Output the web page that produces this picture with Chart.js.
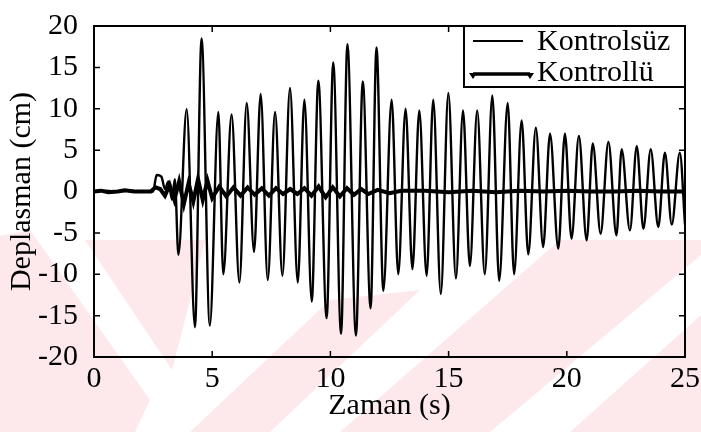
<!DOCTYPE html>
<html>
<head>
<meta charset="utf-8">
<script src="https://cdn.jsdelivr.net/npm/chart.js@4.4.1/dist/chart.umd.min.js"></script>
<style>
  html, body { margin: 0; padding: 0; background: #fff; }
  #wrap { width: 701px; height: 432px; }
</style>
</head>
<body>
<div id="wrap"><canvas id="c" width="701" height="432"></canvas></div>
<script>
// Kontrolsüz (uncontrolled) - peaks/troughs
const tFree = [0, 0.5, 1.0, 1.5, 2.0, 2.5, 2.65, 2.85, 3.0, 3.15, 3.3, 3.42,
  3.57, 3.92, 4.27, 4.55, 4.9, 5.26, 5.47, 5.82, 6.15, 6.46, 6.77, 7.05, 7.35, 7.66,
  7.97, 8.29, 8.62, 8.9, 9.21, 9.49, 9.84, 10.12, 10.45, 10.72, 11.08, 11.37, 11.7, 11.95,
  12.24, 12.59, 12.87, 13.18, 13.47, 13.76, 14.07, 14.35, 14.67, 14.99, 15.31, 15.61,
  15.9, 16.21, 16.53, 16.85, 17.14, 17.5, 17.77, 18.09, 18.37, 18.69, 19.0, 19.29,
  19.64, 19.92, 20.2, 20.51, 20.84, 21.1, 21.43, 21.76, 22.1, 22.32, 22.67, 22.96,
  23.24, 23.55, 23.87, 24.15, 24.44, 24.78, 25.0];
const yFree = [0, 0.1, 0, 0.1, 0, 0, 2.0, 1.8, 0.3, 1.2, -1.0, 1.5,
  -7.65, 9.95, -16.4, 18.5, -16.2, 9.6, -10.0, 9.3, -11.0, 10.7, -7.3, 11.8, -10.7, 9.6,
  -10.2, 12.5, -11.0, 11.1, -13.3, 13.4, -15.3, 15.6, -17.2, 17.8, -17.4, 13.3, -14.1, 17.4,
  -12.0, 11.1, -10.0, 10.0, -9.4, 9.8, -10.2, 11.1, -12.4, 11.9, -10.5, 9.8,
  -9.0, 9.8, -10.0, 11.6, -10.8, 10.7, -10.0, 8.6, -7.6, 7.7, -6.7, 7.0,
  -6.9, 7.0, -5.7, 6.7, -5.9, 5.8, -5.1, 6.0, -5.3, 5.1, -4.7, 5.5,
  -4.5, 5.1, -4.3, 4.7, -4.0, 4.7, -4.0];

// Kontrollü (controlled)
const tCtrl = [0, 0.3, 0.6, 1.0, 1.3, 1.7, 2.0, 2.4, 2.6, 2.8, 3.0, 3.2, 3.4, 3.6, 3.8,
  4.0, 4.2, 4.4, 4.6, 4.8, 5.0, 5.3, 5.6, 5.9, 6.2, 6.5, 6.8, 7.1, 7.4, 7.7, 8.0,
  8.3, 8.6, 8.9, 9.2, 9.5, 9.8, 10.1, 10.4, 10.7, 11.0, 11.3, 11.6, 12.0, 12.5, 13.0,
  14.0, 15.0, 16.0, 17.0, 18.0, 19.0, 20.0, 21.0, 22.0, 23.0, 24.0, 25.0];
const yCtrl = [0, 0.1, -0.1, 0, 0.15, 0, 0, 0, 0.5, 0.3, -0.5, 0.8, -1.0, 1.2, -1.5,
  1.0, -1.2, 1.5, -1.0, 1.3, -0.8, 0.6, -0.6, 0.5, -0.5, 0.5, -0.4, 0.4, -0.5, 0.4, -0.3,
  0.3, -0.3, 0.4, -0.5, 0.6, -0.7, 0.5, -0.6, 0.4, -0.4, 0.3, -0.3, 0.2, -0.2, 0.1,
  0.1, -0.1, 0.1, -0.1, 0.1, 0, 0.1, 0, 0, 0.1, 0, 0];

const xTicks = [0, 5, 10, 15, 20, 25];
const yTicks = [-20, -15, -10, -5, 0, 5, 10, 15, 20];
const seriesNames = ['Kontrolsüz', 'Kontrollü'];

const FONT = 'Liberation Serif, Times New Roman, serif';

// faint pink watermark behind the chart
const watermark = {
  id: 'watermark',
  beforeDraw(chart) {
    const c = chart.ctx;
    c.save();
    c.fillStyle = '#fde9ec';
    const polys = [
      [[0, 236], [30, 230], [150, 400], [135, 432], [0, 432]],
      [[85, 240], [205, 240], [190, 300], [172, 370]],
      [[190, 432], [330, 300], [420, 290], [270, 432]],
      [[340, 432], [560, 240], [701, 240], [701, 255], [490, 432]],
      [[570, 432], [701, 315], [701, 432]]
    ];
    polys.forEach(p => {
      c.beginPath();
      c.moveTo(p[0][0], p[0][1]);
      p.slice(1).forEach(q => c.lineTo(q[0], q[1]));
      c.closePath();
      c.fill();
    });
    c.restore();
  }
};

// box, inward ticks and legend (MATLAB style)
const frame = {
  id: 'frame',
  afterDraw(chart) {
    const c = chart.ctx;
    const a = chart.chartArea;
    const xs = chart.scales.x, ys = chart.scales.y;
    c.save();
    c.strokeStyle = '#000';
    c.lineWidth = 2;
    c.strokeRect(a.left, a.top, a.right - a.left, a.bottom - a.top);
    c.lineWidth = 1.5;
    c.beginPath();
    xTicks.forEach(v => {
      const px = xs.getPixelForValue(v);
      c.moveTo(px, a.bottom); c.lineTo(px, a.bottom - 6);
      c.moveTo(px, a.top); c.lineTo(px, a.top + 6);
    });
    yTicks.forEach(v => {
      const py = ys.getPixelForValue(v);
      c.moveTo(a.left, py); c.lineTo(a.left + 6, py);
      c.moveTo(a.right, py); c.lineTo(a.right - 6, py);
    });
    c.stroke();

    // legend
    const lx = 464, ly = a.top, lw = a.right - lx, lh = 61;
    c.fillStyle = '#fff';
    c.fillRect(lx, ly, lw, lh);
    c.lineWidth = 2;
    c.strokeRect(lx, ly, lw, lh);
    c.font = '30px ' + FONT;
    c.fillStyle = '#000';
    c.textBaseline = 'middle';
    c.lineWidth = 2;
    c.beginPath(); c.moveTo(473, ly + 15); c.lineTo(523, ly + 15); c.stroke();
    c.fillText(seriesNames[0], 537, ly + 16);
    c.lineWidth = 3.5;
    c.beginPath(); c.moveTo(473, ly + 48); c.lineTo(530, ly + 48); c.stroke();
    [473, 530].forEach(px => {
      c.beginPath(); c.moveTo(px - 4, ly + 47); c.lineTo(px + 4, ly + 47); c.lineTo(px, ly + 53); c.closePath(); c.fill();
    });
    c.fillText(seriesNames[1], 537, ly + 47);
    c.restore();
  }
};

new Chart(document.getElementById('c'), {
  type: 'line',
  data: {
    datasets: [
      {
        label: seriesNames[0],
        data: tFree.map((t, i) => ({ x: t, y: yFree[i] })),
        borderColor: '#000',
        borderWidth: 2.4,
        pointRadius: 0,
        cubicInterpolationMode: 'monotone',
      },
      {
        label: seriesNames[1],
        data: tCtrl.map((t, i) => ({ x: t, y: yCtrl[i] })),
        borderColor: '#000',
        borderWidth: 4,
        pointRadius: 0,
        tension: 0,
      },
    ],
  },
  options: {
    responsive: false,
    animation: false,
    layout: { padding: { left: 0, right: 16, top: 16, bottom: 0 } },
    plugins: {
      legend: { display: false },
      tooltip: { enabled: false },
    },
    scales: {
      x: {
        type: 'linear',
        min: 0,
        max: 25,
        afterBuildTicks: s => { s.ticks = xTicks.map(v => ({ value: v })); },
        afterFit: s => { s.height = 75; },
        grid: { display: false },
        border: { display: false },
        ticks: { color: '#000', padding: -4, maxRotation: 0, font: { family: FONT, size: 30 } },
        title: { display: true, text: 'Zaman (s)', color: '#000', padding: { top: 0, bottom: 8 }, font: { family: FONT, size: 30 } },
      },
      y: {
        min: -20,
        max: 20,
        afterBuildTicks: s => { s.ticks = yTicks.map(v => ({ value: v })); },
        afterFit: s => { s.width = 94; },
        grid: { display: false },
        border: { display: false },
        ticks: { color: '#000', padding: 8, font: { family: FONT, size: 30 } },
        title: { display: true, text: 'Deplasman (cm)', color: '#000', padding: { top: 4, bottom: 0 }, font: { family: FONT, size: 30 } },
      },
    },
  },
  plugins: [watermark, frame],
});
</script>
</body>
</html>
